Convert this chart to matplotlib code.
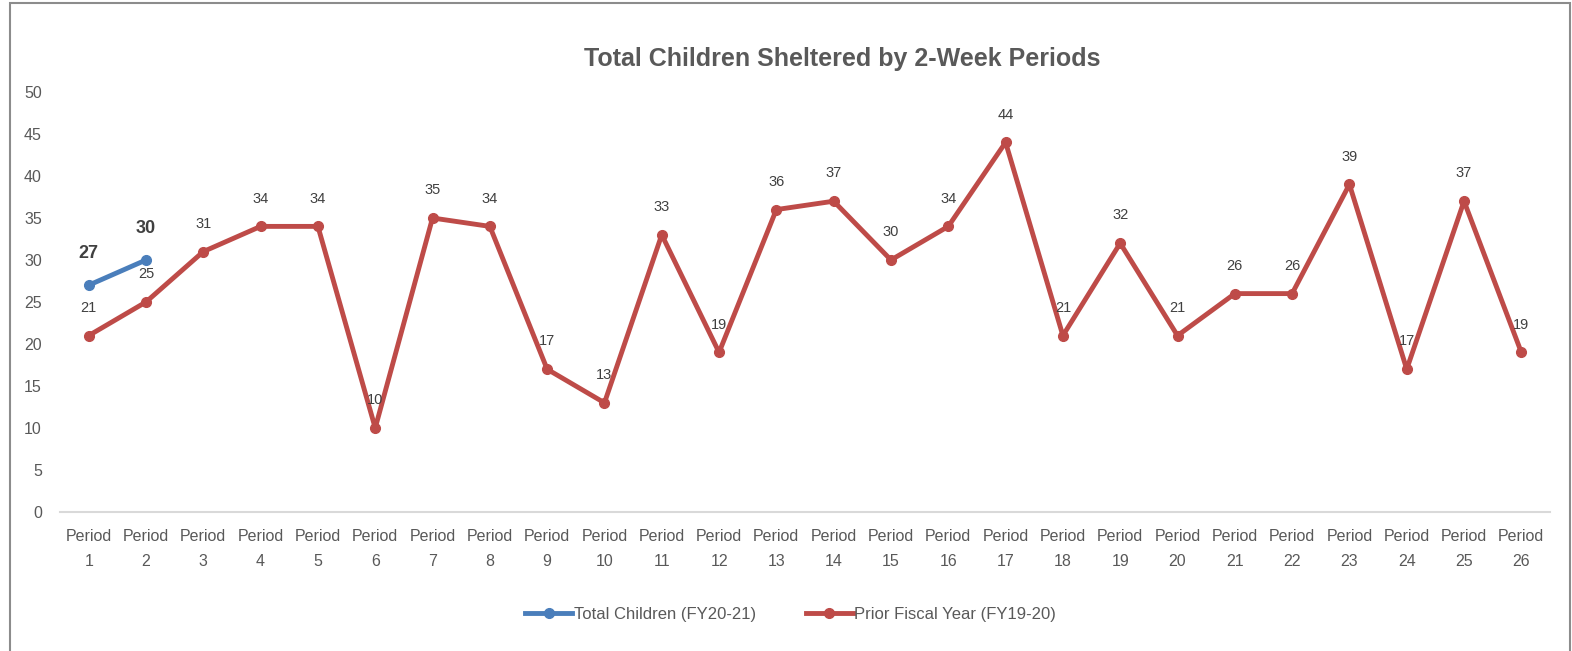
import matplotlib.pyplot as plt
from matplotlib.patches import Rectangle

plt.rcParams['font.family'] = ['Liberation Sans', 'DejaVu Sans']

periods = ['Period\n%d' % i for i in range(1, 27)]
total_fy2021 = [27, 30]
prior_fy1920 = [21, 25, 31, 34, 34, 10, 35, 34, 17, 13, 33, 19, 36, 37, 30,
                34, 44, 21, 32, 21, 26, 26, 39, 17, 37, 19]

blue = '#4a7ebb'
red = '#be4b48'
grey = '#595959'

fig = plt.figure(figsize=(15.72, 6.51), dpi=100)
ax = fig.add_axes([0.0382, 0.2135, 0.9478, 0.6452])

ax.plot(range(len(prior_fy1920)), prior_fy1920, color=red, lw=3.5, marker='o', ms=7,
        label='Prior Fiscal Year (FY19-20)', zorder=2)
ax.plot(range(len(total_fy2021)), total_fy2021, color=blue, lw=3.5, marker='o', ms=7,
        label='Total Children (FY20-21)', zorder=3)

for i, v in enumerate(prior_fy1920):
    ax.annotate(str(v), (i, v), xytext=(0, 20), textcoords='offset points',
                ha='center', va='center', fontsize=10.5, color='#404040')
for i, v in enumerate(total_fy2021):
    ax.annotate(str(v), (i, v), xytext=(0, 23), textcoords='offset points',
                ha='center', va='center', fontsize=13, fontweight='bold', color='#404040')

ax.set_xlim(-0.5, len(periods) - 0.5)
ax.set_ylim(0, 50)
ax.set_yticks(range(0, 51, 5))
ax.set_xticks(range(len(periods)))
ax.set_xticklabels(periods, linespacing=1.9)
ax.tick_params(axis='both', length=0, labelsize=11.5, labelcolor=grey)
ax.tick_params(axis='x', pad=12)
ax.tick_params(axis='y', pad=13)
for s in ['top', 'right', 'left']:
    ax.spines[s].set_visible(False)
ax.spines['bottom'].set_color('#d9d9d9')
ax.spines['bottom'].set_linewidth(1.5)

fig.text(0.536, 0.91, 'Total Children Sheltered by 2-Week Periods', ha='center', va='center',
         fontsize=18, fontweight='bold', color=grey)

h, l = ax.get_legend_handles_labels()
fig.legend(h[::-1], l[::-1], loc='center', bbox_to_anchor=(0.503, 0.056), ncol=2,
           frameon=False, fontsize=12, labelcolor=grey, handlelength=2.8,
           handletextpad=0.1, columnspacing=3.0)

fig.patches.append(Rectangle((10 / 1572, -0.01), 1560 / 1572, 1 - 3 / 651 + 0.01,
                             transform=fig.transFigure, fill=False,
                             edgecolor='#8c8c8c', lw=1.5))

fig.savefig('out.png', dpi=100)
